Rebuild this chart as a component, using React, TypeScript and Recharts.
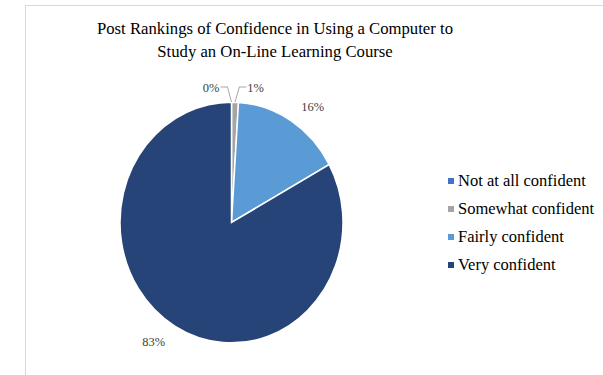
import { PieChart, Pie, Cell } from 'recharts'

const categories = ['Not at all confident', 'Somewhat confident', 'Fairly confident', 'Very confident']
const values = [0, 1, 16, 83]
const labels = ['0%', '1%', '16%', '83%']
const colors = ['#4472C4', '#A5A5A5', '#5B9BD5', '#264478']

const titleLines = ['Post Rankings of Confidence in Using a Computer to', 'Study an On-Line Learning Course']

const FONT = "'Liberation Serif', 'Times New Roman', serif"
const CX = 231.5
const CY = 222.5
const R = 111.5
const RAD = Math.PI / 180

const chartData = categories.map((name, i) => ({ name, value: values[i], text: labels[i] }))

// eslint-disable-next-line @typescript-eslint/no-explicit-any
function renderLabel(props: any) {
  const { cx, cy, midAngle, outerRadius, index, payload } = props
  const cos = Math.cos(midAngle * RAD)
  const sin = Math.sin(midAngle * RAD)
  const text = payload?.text ?? labels[index]

  if (values[index] < 5) {
    // small slices at the top get a leader line, one to each side
    const dir = index === 0 ? -1 : 1
    const ex = cx + outerRadius * cos
    const ey = cy - outerRadius * sin
    const bx = cx + (outerRadius + 12) * cos + dir * 4
    const by = cy - outerRadius - 14
    const endX = bx + dir * 7
    return (
      <g key={`lbl-${index}`}>
        <path
          d={`M${ex},${ey} L${bx},${by} L${endX},${by}`}
          stroke="#a6a6a6"
          strokeWidth={1}
          fill="none"
        />
        <text
          x={endX + dir * 1}
          y={by}
          textAnchor={dir < 0 ? 'end' : 'start'}
          dominantBaseline="central"
          style={{ fontFamily: FONT, fontSize: 12.5 }}
          fill="#404040"
        >
          {text}
        </text>
      </g>
    )
  }

  const x = cx + (outerRadius + 10) * cos + 16 * Math.sign(cos)
  const y = cy - (outerRadius + 10) * sin - 5 * Math.sign(sin)
  return (
    <text
      key={`lbl-${index}`}
      x={x}
      y={y}
      textAnchor="middle"
      dominantBaseline="central"
      style={{ fontFamily: FONT, fontSize: 12.5 }}
      fill="#404040"
    >
      {text}
    </text>
  )
}

export default function App() {
  return (
    <div
      style={{
        position: 'absolute',
        left: 0,
        top: 0,
        width: 603,
        height: 375,
        overflow: 'hidden',
        background: '#fff',
        fontFamily: FONT,
      }}
    >
      <div
        style={{
          position: 'absolute',
          left: 25,
          top: 5,
          width: 640,
          height: 420,
          border: '1px solid #d9d9d9',
        }}
      />
      <div
        style={{
          position: 'absolute',
          left: 75,
          top: 17,
          width: 400,
          textAlign: 'center',
          fontSize: 16.7,
          lineHeight: '23px',
          color: '#000',
          fontFamily: FONT,
        }}
      >
        {titleLines.map((t) => (
          <div key={t}>{t}</div>
        ))}
      </div>
      <div
        style={{
          position: 'absolute',
          left: 0,
          top: 0,
          transform: 'scale(1, 1.08)',
          transformOrigin: `${CX}px ${CY}px`,
        }}
      >
        <PieChart width={603} height={375} margin={{ top: 0, right: 0, bottom: 0, left: 0 }}>
          <Pie
            data={chartData}
            dataKey="value"
            nameKey="name"
            cx={CX}
            cy={CY}
            outerRadius={R}
            startAngle={90}
            endAngle={-270}
            stroke="#fff"
            strokeWidth={1.5}
            label={renderLabel}
            labelLine={false}
            isAnimationActive={false}
          >
            {chartData.map((_, i) => (
              <Cell key={i} fill={colors[i]} />
            ))}
          </Pie>
        </PieChart>
      </div>
      <div style={{ position: 'absolute', left: 448, top: 167 }}>
        {categories.map((c, i) => (
          <div
            key={c}
            style={{
              display: 'flex',
              alignItems: 'center',
              height: 28,
              fontSize: 16.5,
              color: '#000',
              fontFamily: FONT,
              whiteSpace: 'nowrap',
            }}
          >
            <span
              style={{ width: 6, height: 6, background: colors[i], marginRight: 4, display: 'inline-block' }}
            />
            {c}
          </div>
        ))}
      </div>
    </div>
  )
}
